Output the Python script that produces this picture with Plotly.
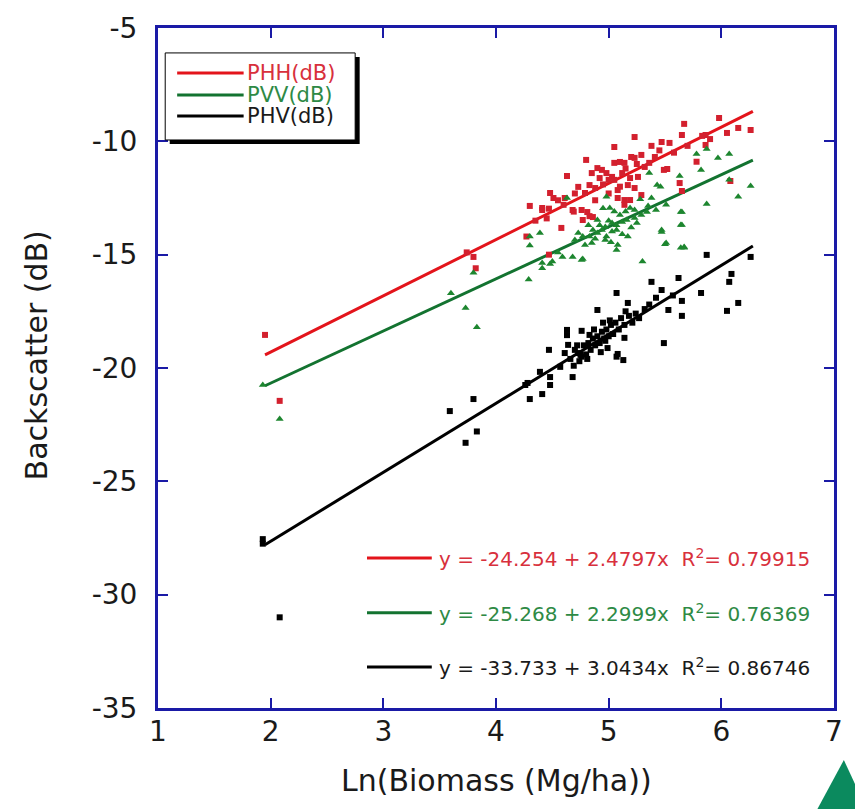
import plotly.graph_objects as go

# ---- data: ln(biomass) vs backscatter for three polarisations ----
phh_x = [1.95, 2.08, 3.74, 3.80, 3.82, 4.30, 4.41, 4.27, 4.47, 4.48, 4.51, 4.41, 4.47, 4.61,
         4.68, 4.76, 4.81, 4.83, 4.77, 4.58, 4.63, 4.80, 5.05, 5.23, 5.47, 5.54, 5.65, 5.67,
         5.98, 6.05, 6.15, 6.26, 5.86, 5.83, 5.86, 5.78, 5.52, 5.63, 5.65, 6.08, 5.14, 5.19,
         5.29, 5.14, 5.08, 5.10, 5.17, 5.23, 4.83, 4.88, 4.73, 4.79, 4.85, 4.90, 4.94, 4.98,
         5.03, 5.05, 5.10, 5.14, 5.20, 5.23, 5.29, 5.32, 5.36, 5.41, 5.00, 4.92, 5.12, 5.26,
         5.05, 5.19, 5.08, 5.49, 4.95, 5.15, 5.45, 5.38, 4.70, 4.60, 4.55, 5.58, 5.70, 5.90,
         4.45, 4.35, 5.25, 5.00, 4.88, 4.86, 4.69]
phh_y = [-18.54, -21.45, -14.90, -15.10, -15.60, -12.85, -13.03, -14.20, -15.00, -12.28, -12.50,
         -12.94, -12.97, -12.50, -13.03, -13.03, -13.12, -13.30, -13.47, -13.82, -11.53, -10.82,
         -10.25, -9.81, -10.03, -10.07, -9.72, -9.23, -8.97, -9.63, -9.41, -9.50, -9.72, -9.76,
         -10.16, -10.90, -11.22, -11.84, -12.19, -11.75, -12.59, -12.59, -12.37, -12.80, -12.15,
         -12.00, -11.93, -12.06, -11.93, -12.06, -12.01, -12.28, -11.40, -11.18, -11.26, -11.40,
         -11.57, -10.95, -10.91, -10.95, -10.69, -10.73, -10.60, -11.13, -10.95, -10.69, -11.70,
         -11.62, -11.40, -11.57, -11.70, -11.62, -12.50, -11.26, -11.90, -11.20, -10.40, -10.20,
         -12.30, -12.80, -12.60, -10.50, -10.20, -9.90, -13.40, -13.50, -11.00, -12.30, -12.60,
         -13.34, -13.10]

pvv_x = [1.93, 2.08, 3.60, 3.73, 3.80, 3.83, 4.29, 4.30, 4.39, 4.30, 4.41, 4.41, 4.48, 4.50,
         4.59, 4.68, 4.77, 4.63, 4.98, 5.63, 5.36, 5.43, 5.46, 5.38, 5.28, 5.64, 5.01, 5.05,
         5.10, 5.19, 5.23, 4.90, 4.82, 4.86, 4.94, 4.97, 5.03, 5.07, 5.12, 5.16, 5.23, 5.29,
         5.34, 5.42, 5.51, 4.73, 4.77, 4.83, 4.90, 4.98, 5.03, 5.07, 5.17, 5.12, 5.47, 5.64,
         4.70, 4.79, 4.85, 4.97, 5.08, 5.07, 5.51, 5.50, 5.67, 5.64, 5.30, 4.76, 4.55, 5.78,
         5.87, 6.07, 5.97, 5.82, 6.07, 6.26, 6.15, 5.87, 5.65, 5.65, 5.67, 5.47, 4.92, 5.00,
         5.20, 5.25, 4.88, 5.02, 5.15, 4.95, 5.35]
pvv_y = [-20.75, -22.25, -16.70, -17.35, -15.80, -18.20, -16.10, -14.60, -14.04, -14.20, -15.60,
         -15.37, -15.41, -15.30, -15.10, -15.10, -15.19, -12.50, -12.45, -11.53, -11.40, -11.93,
         -12.00, -12.50, -12.55, -13.12, -12.94, -13.10, -13.25, -12.94, -13.03, -13.47, -13.70,
         -13.91, -13.91, -13.78, -13.60, -13.70, -13.56, -13.47, -13.38, -13.25, -13.12, -13.03,
         -12.80, -14.04, -14.20, -14.20, -14.04, -14.20, -13.98, -13.91, -14.20, -14.10, -13.91,
         -13.69, -14.35, -14.57, -14.48, -14.35, -14.57, -14.79, -14.48, -14.54, -14.66, -14.70,
         -15.30, -15.23, -14.90, -10.56, -10.34, -10.56, -10.73, -11.26, -11.70, -11.97, -12.45,
         -12.76, -13.12, -13.69, -14.70, -14.00, -13.70, -13.50, -13.80, -13.60, -14.30, -14.45,
         -13.10, -12.95, -12.85]

phv_x = [1.93, 1.93, 2.08, 3.59, 3.80, 3.73, 3.83, 4.26, 4.28, 4.30, 4.41, 4.48, 4.48, 4.39,
         4.47, 4.61, 4.64, 4.63, 4.63, 4.76, 4.68, 4.57, 4.73, 4.76, 4.83, 4.90, 4.99, 5.08,
         5.13, 5.07, 4.75, 5.14, 4.97, 5.07, 5.17, 5.38, 5.47, 5.62, 5.87, 6.09, 6.07, 5.82,
         5.65, 6.15, 6.05, 5.65, 5.53, 5.49, 6.26, 4.66, 4.70, 4.72, 4.74, 4.78, 4.80, 4.82,
         4.84, 4.86, 4.88, 4.90, 4.92, 4.94, 4.96, 4.98, 5.00, 5.02, 5.04, 5.06, 5.09, 5.11,
         5.14, 5.18, 5.21, 5.24, 5.27, 5.32, 5.36, 5.42, 5.57, 4.81, 4.93, 5.01, 4.87, 5.15,
         4.69, 4.95]
phv_y = [-27.55, -27.75, -31.00, -21.90, -21.37, -23.30, -22.80, -20.75, -20.66, -21.37, -21.15,
         -20.75, -20.40, -20.17, -19.20, -19.34, -18.98, -18.32, -18.55, -18.36, -20.40, -19.95,
         -19.34, -19.50, -18.54, -17.44, -19.12, -19.38, -19.65, -19.50, -19.42, -18.67, -18.80,
         -16.69, -17.13, -16.20, -16.56, -16.03, -15.01, -15.85, -16.20, -16.69, -17.04, -17.13,
         -17.48, -17.70, -17.44, -18.90, -15.10, -19.60, -19.20, -19.00, -19.70, -19.00, -19.40,
         -18.90, -19.20, -18.70, -19.00, -18.60, -18.90, -18.40, -18.70, -18.30, -18.60, -18.10,
         -18.50, -18.00, -18.30, -17.80, -18.10, -17.70, -18.00, -17.60, -17.80, -17.40, -17.20,
         -16.90, -16.80, -19.60, -19.30, -17.90, -18.30, -17.50, -19.90, -18.00]

# linear fits: (intercept, slope, R^2), drawn over the range of ln(biomass)
fits = {
    "PHH": (-24.254, 2.4797, 0.79915),
    "PVV": (-25.268, 2.2999, 0.76369),
    "PHV": (-33.733, 3.0434, 0.86746),
}
fit_x = [1.95, 6.28]

series_names = ["PHH", "PVV", "PHV"]
x_ticks = [1, 2, 3, 4, 5, 6, 7]
y_ticks = [-35, -30, -25, -20, -15, -10, -5]
y_tick_text = ["-35", "-30", "-25", "-20", "-15", "-10", "-5"]

# ---- styling ----
FONT = "DejaVu Sans"
AXIS_BLUE = "#1a1aa6"
marker_col = {"PHH": "#d3202e", "PVV": "#1d862f", "PHV": "#000000"}
line_col = {"PHH": "#e3141b", "PVV": "#137330", "PHV": "#000000"}
text_col = {"PHH": "#d8303c", "PVV": "#2e8a45", "PHV": "#1a1a1a"}
symbol = {"PHH": "square", "PVV": "triangle-up", "PHV": "square"}
points = {"PHH": (phh_x, phh_y), "PVV": (pvv_x, pvv_y), "PHV": (phv_x, phv_y)}

fig = go.Figure()

for name in series_names:
    b0, b1, _ = fits[name]
    fig.add_trace(go.Scatter(
        x=fit_x, y=[b0 + b1 * v for v in fit_x], mode="lines",
        line=dict(color=line_col[name], width=3), showlegend=False, hoverinfo="skip"))

for name in series_names:
    xs, ys = points[name]
    fig.add_trace(go.Scatter(
        x=xs, y=ys, mode="markers", showlegend=False,
        marker=dict(symbol=symbol[name], size=6 if symbol[name] == "square" else 7,
                    color=marker_col[name], line=dict(width=0))))

shapes = []
annotations = []

# key box (top left) with drop shadow
bx0, bx1, by0, by1 = 1.064, 2.75, -6.10, -9.94
shapes.append(dict(type="rect", xref="x", yref="y", x0=bx0 + 0.04, x1=bx1 + 0.04,
                   y0=by0 - 0.18, y1=by1 - 0.18, fillcolor="black", line=dict(width=0),
                   layer="above"))
shapes.append(dict(type="rect", xref="x", yref="y", x0=bx0, x1=bx1, y0=by0, y1=by1,
                   fillcolor="white", line=dict(color="black", width=1), layer="above"))
key_rows = [-6.99, -7.96, -8.88]
for name, ry in zip(series_names, key_rows):
    shapes.append(dict(type="line", xref="x", yref="y", x0=1.17, x1=1.76, y0=ry, y1=ry,
                       line=dict(color=line_col[name], width=3), layer="above"))
    annotations.append(dict(x=1.775, y=ry, xref="x", yref="y", text=name + "(dB)",
                            showarrow=False, xanchor="left", yanchor="middle",
                            font=dict(family=FONT, size=21, color=text_col[name])))
fig.add_trace(go.Scatter(
    x=[1.47, 1.47, 1.47], y=key_rows, mode="markers", showlegend=False, hoverinfo="skip",
    marker=dict(symbol=[symbol[n] for n in series_names], size=4,
                color=[line_col[n] for n in series_names])))

# regression equations (lower right)
eq_rows = [-28.38, -30.80, -33.19]
for name, ry in zip(series_names, eq_rows):
    b0, b1, r2 = fits[name]
    shapes.append(dict(type="line", xref="x", yref="y", x0=2.855, x1=3.43, y0=ry, y1=ry,
                       line=dict(color=line_col[name], width=3), layer="above"))
    txt = (f"y = {b0:.3f} + {b1:.4f}x\u00a0\u00a0R<sup>2</sup>= {r2:.5f}")
    annotations.append(dict(x=3.475, y=ry, xref="x", yref="y", text=txt, showarrow=False,
                            xanchor="left", yanchor="middle",
                            font=dict(family=FONT, size=20, color=text_col[name])))

# axis titles
annotations.append(dict(x=0.5, y=-0.106, xref="paper", yref="paper", yanchor="middle",
                        xanchor="center", text="Ln(Biomass (Mg/ha))", showarrow=False,
                        font=dict(family=FONT, size=30, color="#1a1a1a")))
annotations.append(dict(x=-0.18, y=0.519, xref="paper", yref="paper", textangle=-90,
                        xanchor="center", yanchor="middle",
                        text="Backscatter (dB)", showarrow=False,
                        font=dict(family=FONT, size=30, color="#1a1a1a")))

# corner ornament
shapes.append(dict(type="path", xref="paper", yref="paper",
                   path="M 0.9736,-0.152 L 1.0146,-0.0765 L 1.05,-0.152 Z",
                   fillcolor="#0b8a5e", line=dict(width=0), layer="above"))

axis_common = dict(showline=True, linecolor=AXIS_BLUE, linewidth=3, mirror="ticks",
                   ticks="inside", ticklen=10, tickwidth=2, tickcolor=AXIS_BLUE,
                   showgrid=False, zeroline=False,
                   tickfont=dict(family=FONT, size=28, color="#1a1a1a"))

fig.update_layout(
    width=855, height=809,
    margin=dict(l=158, r=14, t=28, b=101),
    paper_bgcolor="white", plot_bgcolor="white",
    showlegend=False,
    xaxis=dict(range=[1, 7], tickvals=x_ticks, ticklabelstandoff=-4, **axis_common),
    yaxis=dict(range=[-35, -5], tickvals=y_ticks, ticktext=y_tick_text,
               ticklabelstandoff=12, **axis_common),
    shapes=shapes, annotations=annotations,
)

fig.write_html("out.html")
